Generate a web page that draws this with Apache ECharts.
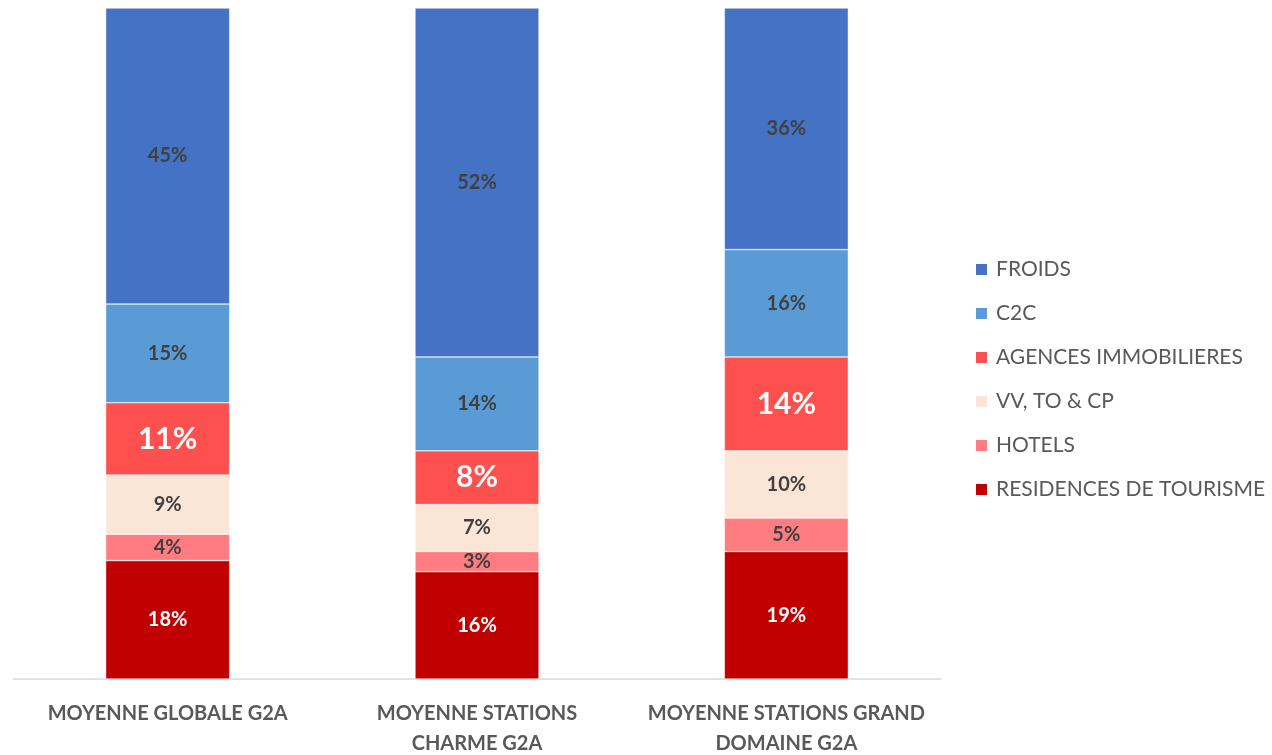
<!DOCTYPE html>
<html lang="fr">
<head>
    <meta charset="UTF-8">
    <script src="https://cdn.jsdelivr.net/npm/echarts@6/dist/echarts.min.js"></script>
    <title>Répartition G2A</title>
    <style>
        html, body { margin: 0; padding: 0; background: #fff; }
    </style>
</head>
<body>

<div id="chart" style="width:1272px;height:755px;"></div>

<script>
    // catégories (colonnes)
    var categories = ['MOYENNE GLOBALE G2A', 'MOYENNE STATIONS\nCHARME G2A', 'MOYENNE STATIONS GRAND\nDOMAINE G2A'];

    // valeurs en %, du bas vers le haut
    var residences = [18, 16, 19];
    var hotels = [4, 3, 5];
    var vvToCp = [9, 7, 10];
    var agences = [11, 8, 14];
    var c2c = [15, 14, 16];
    var froids = [45, 52, 36];

    var seriesNames = ['RESIDENCES DE TOURISME', 'HOTELS', 'VV, TO & CP', 'AGENCES IMMOBILIERES', 'C2C', 'FROIDS'];
    var seriesValues = [residences, hotels, vvToCp, agences, c2c, froids];
    var colors = ['#C00000', '#FF7C80', '#FBE5D6', '#FF5050', '#5B9BD5', '#4472C4'];
    var labelColors = ['#ffffff', '#404040', '#404040', '#ffffff', '#404040', '#404040'];
    var labelSizes = [20, 20, 20, 30, 20, 20];

    var font = 'Lato, "Open Sans", sans-serif';

    // 100% empilé : total par colonne
    var totals = categories.map(function (c, i) {
        var s = 0;
        seriesValues.forEach(function (arr) { s += arr[i]; });
        return s;
    });

    var series = seriesNames.map(function (name, k) {
        var raw = seriesValues[k];
        return {
            name: name,
            type: 'bar',
            stack: 'total',
            barWidth: 124,
            data: raw.map(function (v, i) { return v / totals[i] * 100; }),
            itemStyle: {color: colors[k], borderColor: '#ffffff', borderWidth: 0.5},
            label: {
                show: true,
                position: 'inside',
                fontFamily: font,
                fontWeight: 'bold',
                fontSize: labelSizes[k],
                color: labelColors[k],
                formatter: function (p) { return raw[p.dataIndex] + '%'; }
            }
        };
    });

    var myChart = echarts.init(document.getElementById('chart'));
    myChart.setOption({
        animation: false,
        grid: {left: 13, right: 331, top: 8, bottom: 76, containLabel: false, outerBoundsMode: 'none'},
        legend: {
            orient: 'vertical',
            left: 969,
            top: 254,
            itemWidth: 13,
            itemHeight: 13,
            itemGap: 23,
            icon: 'rect',
            data: seriesNames.slice().reverse(),
            textStyle: {fontFamily: font, fontSize: 21, color: '#595959', padding: [0, 0, 0, 3]}
        },
        xAxis: {
            type: 'category',
            data: categories,
            axisLine: {lineStyle: {color: '#D9D9D9', width: 1.5}},
            axisTick: {show: false},
            axisLabel: {
                interval: 0,
                margin: 20,
                fontFamily: font,
                fontWeight: 'bold',
                fontSize: 20,
                lineHeight: 30,
                color: '#595959'
            }
        },
        yAxis: {
            type: 'value',
            min: 0,
            max: 100,
            show: false,
            splitLine: {show: false}
        },
        series: series
    });
</script>

</body>
</html>
